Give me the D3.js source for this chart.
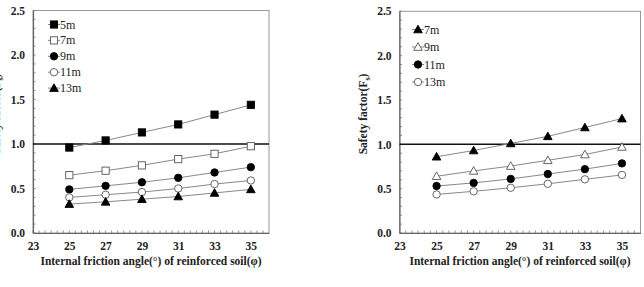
<!DOCTYPE html>
<html>
<head>
<meta charset="utf-8">
<script src="https://cdn.jsdelivr.net/npm/d3@7"></script>
<style>
  body { margin: 0; background: #fff; }
  svg { display: block; }
  text { font-family: "Liberation Serif", "Times New Roman", serif; }
</style>
</head>
<body>
<svg id="chart" width="644" height="287"></svg>
<script>
// friction angle of the reinforced soil (deg)
const angles = [25, 27, 29, 31, 33, 35];
const xTicks = [23, 25, 27, 29, 31, 33, 35];
const yTicks = [0, 0.5, 1.0, 1.5, 2.0, 2.5];

// panel (a) - safety factor per wall height
const leftNames = ['5m', '7m', '9m', '11m', '13m'];
const left5m  = [0.96, 1.04, 1.13, 1.22, 1.33, 1.44];
const left7m  = [0.65, 0.70, 0.76, 0.83, 0.89, 0.975];
const left9m  = [0.49, 0.53, 0.57, 0.62, 0.68, 0.74];
const left11m = [0.40, 0.43, 0.46, 0.50, 0.55, 0.59];
const left13m = [0.325, 0.35, 0.38, 0.41, 0.45, 0.49];

// panel (b)
const rightNames = ['7m', '9m', '11m', '13m'];
const right7m  = [0.86, 0.93, 1.01, 1.09, 1.19, 1.29];
const right9m  = [0.64, 0.70, 0.755, 0.82, 0.885, 0.97];
const right11m = [0.53, 0.565, 0.61, 0.665, 0.72, 0.785];
const right13m = [0.435, 0.47, 0.51, 0.555, 0.605, 0.655];

const svg = d3.select('#chart');

// marker drawer: type = square / circle / triangle, filled or not
function marker(g, type, filled, x, y) {
  const fill = filled ? '#000' : '#fff';
  const stroke = filled ? '#000' : '#555';
  if (type === 'square') {
    g.append('rect').attr('x', x - 3.6).attr('y', y - 3.6)
      .attr('width', 7.2).attr('height', 7.2)
      .attr('fill', fill).attr('stroke', stroke).attr('stroke-width', 0.9);
  } else if (type === 'circle') {
    g.append('circle').attr('cx', x).attr('cy', y).attr('r', 3.7)
      .attr('fill', fill).attr('stroke', stroke).attr('stroke-width', 0.9);
  } else {
    g.append('path')
      .attr('d', `M${x},${y - 4.3}L${x + 4.3},${y + 3.3}L${x - 4.3},${y + 3.3}Z`)
      .attr('fill', fill).attr('stroke', stroke).attr('stroke-width', 0.9);
  }
}

function drawPanel(cfg) {
  const x = d3.scaleLinear().domain([23, 36]).range([cfg.x0, cfg.x1]);
  const y = d3.scaleLinear().domain([0, 2.5]).range([cfg.y0, cfg.y1]);
  const g = svg.append('g');

  // frame
  g.append('rect')
    .attr('x', cfg.x0).attr('y', cfg.y1)
    .attr('width', cfg.x1 - cfg.x0).attr('height', cfg.y0 - cfg.y1)
    .attr('fill', 'none').attr('stroke', '#999').attr('stroke-width', 1);

  // minor ticks (inside)
  const xMinor = d3.range(0, 40).map(i => 23 + i / 3).filter(v => v < 36);
  g.selectAll('.xm').data(xMinor).enter().append('line')
    .attr('x1', d => x(d)).attr('x2', d => x(d))
    .attr('y1', cfg.y0).attr('y2', cfg.y0 - 2.5)
    .attr('stroke', '#777').attr('stroke-width', 0.8);
  const yMinor = d3.range(0, 26).map(i => i / 10);
  g.selectAll('.ym').data(yMinor).enter().append('line')
    .attr('x1', cfg.x0).attr('x2', cfg.x0 + 2.5)
    .attr('y1', d => y(d)).attr('y2', d => y(d))
    .attr('stroke', '#777').attr('stroke-width', 0.8);

  // axes
  const xAxis = g.append('g').attr('transform', `translate(0,${cfg.y0})`)
    .call(d3.axisBottom(x).tickValues(xTicks).tickSize(0).tickPadding(9).tickFormat(d3.format('d')));
  const yAxis = g.append('g').attr('transform', `translate(${cfg.x0},0)`)
    .call(d3.axisLeft(y).tickValues(yTicks).tickSize(0).tickPadding(8).tickFormat(d3.format('.1f')));
  [xAxis, yAxis].forEach(a => {
    a.select('.domain').attr('stroke', '#666').attr('stroke-width', 1.2);
    a.selectAll('text').attr('font-size', 11.5).attr('font-weight', 'bold')
      .attr('fill', '#222').attr('font-family', '"Liberation Serif", serif');
  });

  // reference line Fs = 1.0
  g.append('line')
    .attr('x1', cfg.x0).attr('x2', cfg.x1)
    .attr('y1', y(1)).attr('y2', y(1))
    .attr('stroke', '#111').attr('stroke-width', 1.6);

  // series
  const line = d3.line().x((d, i) => x(angles[i])).y(d => y(d));
  cfg.series.forEach(s => {
    g.append('path').datum(s.values).attr('d', line)
      .attr('fill', 'none').attr('stroke', '#888').attr('stroke-width', 1);
    s.values.forEach((v, i) => marker(g, s.type, s.filled, x(angles[i]), y(v)));
  });

  // legend
  cfg.series.forEach((s, i) => {
    const ly = cfg.legY + i * cfg.legStep;
    g.append('line').attr('x1', cfg.legX - 6).attr('x2', cfg.legX + 6)
      .attr('y1', ly).attr('y2', ly).attr('stroke', '#888').attr('stroke-width', 1);
    marker(g, s.type, s.filled, cfg.legX, ly);
    g.append('text').attr('x', cfg.legX + 6).attr('y', ly + 4)
      .attr('font-size', 12).attr('fill', '#222').text(s.name);
  });

  // axis titles
  g.append('text')
    .attr('x', (cfg.x0 + cfg.x1) / 2).attr('y', 265)
    .attr('text-anchor', 'middle').attr('font-size', 11.5).attr('font-weight', 'bold')
    .attr('fill', '#222').text('Internal friction angle(°) of reinforced soil(φ)');

  const yt = g.append('text')
    .attr('transform', `translate(${cfg.x0 - 33},114) rotate(-90)`)
    .attr('text-anchor', 'middle').attr('font-size', 11.5).attr('font-weight', 'bold')
    .attr('fill', '#222');
  yt.append('tspan').text('Safety factor(F');
  yt.append('tspan').attr('font-size', 8).attr('dy', 3).text('s');
  yt.append('tspan').attr('dy', -3).text(')');

  // sub-caption, mostly below the visible area
  g.append('text')
    .attr('x', cfg.capX).attr('y', 296)
    .attr('font-size', 12).attr('fill', '#222').text(cfg.caption);
}

drawPanel({
  x0: 33, x1: 269, y0: 233, y1: 10.5,
  legX: 54, legY: 24.5, legStep: 15.9,
  capX: 110, caption: '(a) 1:1',
  series: [
    { name: leftNames[0], values: left5m,  type: 'square',   filled: true },
    { name: leftNames[1], values: left7m,  type: 'square',   filled: false },
    { name: leftNames[2], values: left9m,  type: 'circle',   filled: true },
    { name: leftNames[3], values: left11m, type: 'circle',   filled: false },
    { name: leftNames[4], values: left13m, type: 'triangle', filled: true }
  ]
});

drawPanel({
  x0: 399.5, x1: 640.5, y0: 233, y1: 11.3,
  legX: 418, legY: 29.5, legStep: 17.5,
  capX: 475, caption: '(b) 1:2',
  series: [
    { name: rightNames[0], values: right7m,  type: 'triangle', filled: true },
    { name: rightNames[1], values: right9m,  type: 'triangle', filled: false },
    { name: rightNames[2], values: right11m, type: 'circle',   filled: true },
    { name: rightNames[3], values: right13m, type: 'circle',   filled: false }
  ]
});
</script>
</body>
</html>
